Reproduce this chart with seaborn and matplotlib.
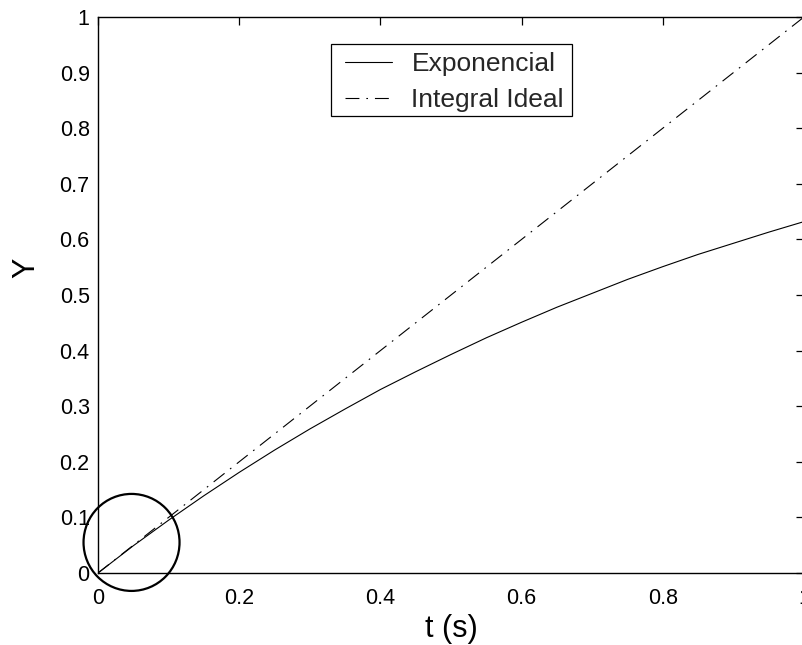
import numpy as np
import pandas as pd
import matplotlib
matplotlib.use("Agg")
import matplotlib.pyplot as plt
from matplotlib.patches import Ellipse, Rectangle
import seaborn as sns

# Response samples read every 0.05 s
t_exp = [0.0, 0.05, 0.1, 0.15, 0.2, 0.25, 0.3, 0.35, 0.4, 0.45, 0.5,
         0.55, 0.6, 0.65, 0.7, 0.75, 0.8, 0.85, 0.9, 0.95, 1.0]
y_exp = [0.0, 0.049, 0.095, 0.139, 0.181, 0.221, 0.259, 0.295, 0.330, 0.362, 0.393,
         0.423, 0.451, 0.478, 0.503, 0.528, 0.551, 0.573, 0.593, 0.613, 0.632]
t_ideal = [0.0, 1.0]
y_ideal = [0.0, 1.0]
x_ticks = [0, 0.2, 0.4, 0.6, 0.8, 1]
y_ticks = [0, 0.1, 0.2, 0.3, 0.4, 0.5, 0.6, 0.7, 0.8, 0.9, 1]
labels = ["Exponencial", "Integral Ideal"]

sns.set_theme(style="white")
plt.rcParams["font.family"] = ["Liberation Sans", "DejaVu Sans"]
plt.rcParams["lines.scale_dashes"] = False

fig = plt.figure(figsize=(8.03, 6.45), dpi=100)
W, H = 803, 645
left, right, top, bottom = 98, 804, 17, 573
ax_w = right - left
ax_h = bottom - top
ax = fig.add_axes([left / W, 1 - bottom / H, ax_w / W, ax_h / H])

df_exp = pd.DataFrame({"t": t_exp, "y": y_exp})
df_ideal = pd.DataFrame({"t": t_ideal, "y": y_ideal})
sns.lineplot(data=df_exp, x="t", y="y", ax=ax, color="black", lw=0.8,
             label=labels[0])
sns.lineplot(data=df_ideal, x="t", y="y", ax=ax, color="black", lw=0.8,
             label=labels[1])
ax.lines[1].set_dashes((10, 5, 1.2, 5))

ax.set_xlim(0, 1)
ax.set_ylim(0, 1)
ax.set_xticks(x_ticks)
ax.set_xticklabels([f"{v:g}" for v in x_ticks])
ax.set_yticks(y_ticks)
ax.set_yticklabels([f"{v:g}" for v in y_ticks])

ax.tick_params(direction="in", length=6, width=0.9, color="black",
               top=True, right=True, labelsize=15.5, labelcolor="black")
ax.tick_params(axis="x", pad=11)
ax.tick_params(axis="y", pad=6)
for s in ax.spines.values():
    s.set_color("black")
    s.set_linewidth(1.0)

ax.set_xlabel("t (s)", fontsize=22, color="black")
ax.set_ylabel("Y", fontsize=22, color="black")
ax.xaxis.set_label_coords(0.5, (bottom - 614) / ax_h)
ax.yaxis.set_label_coords((41.5 - left) / ax_w, (bottom - 268) / ax_h)

# highlight ring near the origin
ring = Ellipse((0.0475, 0.055), width=2 * 48 / ax_w, height=2 * 48.5 / ax_h,
               fill=False, edgecolor="black", lw=1.6, clip_on=False,
               transform=ax.transData)
ax.add_patch(ring)

# legend box
frame = Rectangle(((331 - left) / ax_w, (bottom - 116) / ax_h),
                  (572 - 331) / ax_w, (116 - 44) / ax_h,
                  transform=ax.transAxes, facecolor="white", edgecolor="black",
                  lw=0.9, zorder=4)
ax.add_patch(frame)
leg = ax.legend(loc="upper left",
                bbox_to_anchor=((345 - left) / ax_w, (bottom - 52) / ax_h),
                fontsize=19, frameon=False,
                handlelength=1.8, handletextpad=0.72, borderpad=0.0,
                labelspacing=0.45, borderaxespad=0)
leg.set_zorder(5)

fig.savefig("out.png", dpi=100)
